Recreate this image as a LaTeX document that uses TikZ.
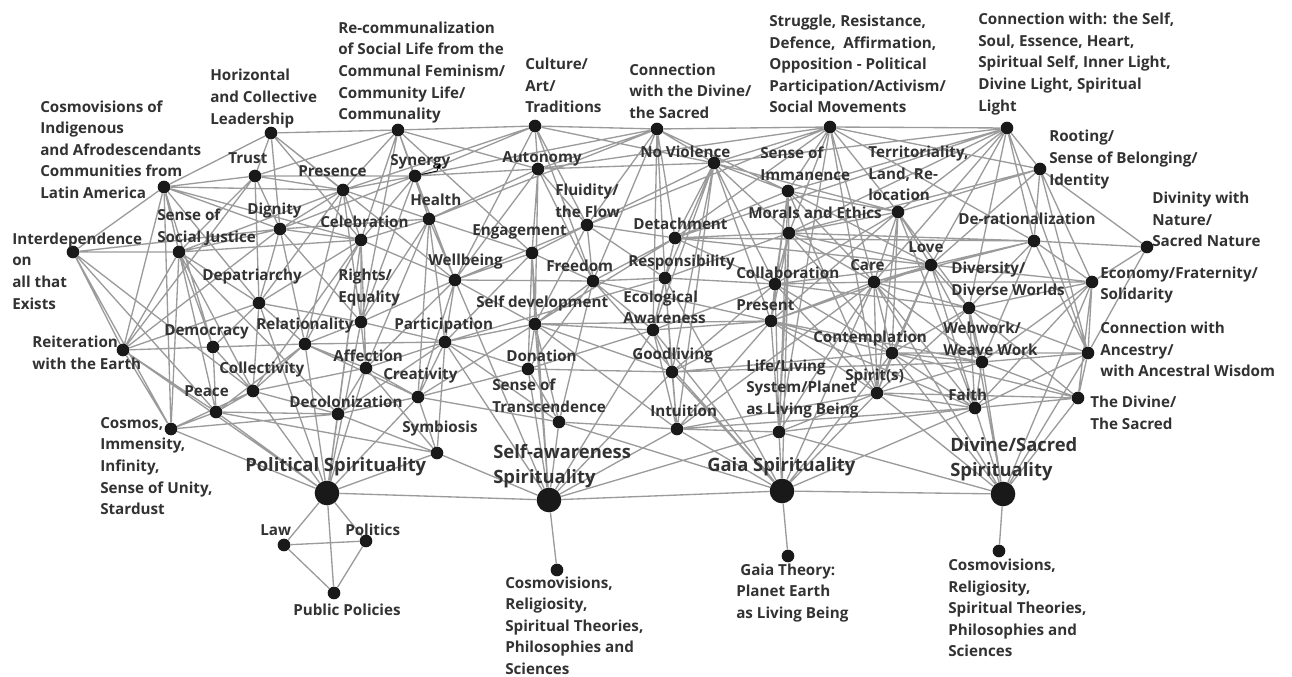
\documentclass[tikz,border=0pt]{standalone}
\usepackage{fontspec}
\setmainfont{Open Sans}
\usetikzlibrary{arrows.meta}
\definecolor{edgegray}{RGB}{155,155,155}
\definecolor{txtgray}{RGB}{50,50,50}
\pgfdeclarelayer{bg}
\pgfsetlayers{bg,main}
\newcommand{\lblfont}{\fontsize{11.4}{16.2}\selectfont\bfseries}
\newcommand{\bigfont}{\fontsize{13.8}{19}\selectfont\bfseries}

\begin{document}
\begin{tikzpicture}[x=0.75pt,y=-0.75pt,
    dot/.style={circle,fill=black!90,inner sep=0pt,minimum size=9.5pt},
    hub/.style={circle,fill=black!90,inner sep=0pt,minimum size=18.5pt},
    lbl/.style={anchor=west,align=left,inner sep=0pt,text=txtgray,font=\lblfont},
    biglbl/.style={lbl,font=\bigfont},
    edge/.style={draw=edgegray,line width=1pt}]
\useasboundingbox (0,0) rectangle (1292,677);

% top row
\draw (271,133) node[dot] (lead) {};
\draw (398,130) node[dot] (recomm) {};
\draw (535,126) node[dot] (culture) {};
\draw (657,129) node[dot] (conndiv) {};
\draw (830,127) node[dot] (struggle) {};
\draw (1007,128) node[dot] (connself) {};
% second row
\draw (164,187) node[dot] (cosmoind) {};
\draw (255,176) node[dot] (trust) {};
\draw (343,190) node[dot] (presence) {};
\draw (415,176) node[dot] (synergy) {};
\draw (538,169) node[dot] (autonomy) {};
\draw (714,163) node[dot] (noviol) {};
\draw (788,191) node[dot] (immanence) {};
\draw (898,212) node[dot] (territ) {};
\draw (1040,169) node[dot] (rooting) {};
\draw (1147,247) node[dot] (divnature) {};
% third row
\draw (73,252) node[dot] (interdep) {};
\draw (179,252) node[dot] (socjust) {};
\draw (280,229) node[dot] (dignity) {};
\draw (361,240) node[dot] (celebr) {};
\draw (429,219) node[dot] (health) {};
\draw (532,253) node[dot] (engage) {};
\draw (587,225) node[dot] (fluid) {};
\draw (675,238) node[dot] (detach) {};
\draw (789,233) node[dot] (morals) {};
\draw (1034,241) node[dot] (derat) {};
\draw (931,265) node[dot] (love) {};
% fourth row
\draw (259,303) node[dot] (depat) {};
\draw (361,322) node[dot] (rights) {};
\draw (455,280) node[dot] (wellb) {};
\draw (593,281) node[dot] (freedom) {};
\draw (665,278) node[dot] (respons) {};
\draw (775,284) node[dot] (collab) {};
\draw (874,282) node[dot] (care) {};
\draw (969,308) node[dot] (divers) {};
\draw (1092,282) node[dot] (economy) {};
% fifth row
\draw (123,350) node[dot] (reiter) {};
\draw (213,347) node[dot] (democ) {};
\draw (305,344) node[dot] (relat) {};
\draw (445,342) node[dot] (partic) {};
\draw (535,324) node[dot] (selfdev) {};
\draw (653,330) node[dot] (ecol) {};
\draw (771,321) node[dot] (present) {};
\draw (892,353) node[dot] (contempl) {};
\draw (982,362) node[dot] (webwork) {};
\draw (1088,353) node[dot] (ancestry) {};
% sixth row
\draw (366,368) node[dot] (affect) {};
\draw (253,391) node[dot] (collect) {};
\draw (418,397) node[dot] (creat) {};
\draw (528,369) node[dot] (donat) {};
\draw (672,372) node[dot] (goodl) {};
\draw (877,393) node[dot] (spirit) {};
\draw (779,432) node[dot] (life) {};
\draw (975,408) node[dot] (faith) {};
\draw (1078,398) node[dot] (thediv) {};
\draw (216,412) node[dot] (peace) {};
\draw (338,414) node[dot] (decol) {};
\draw (171,429) node[dot] (cosmos) {};
\draw (559,422) node[dot] (transc) {};
\draw (677,429) node[dot] (intuit) {};
\draw (437,453) node[dot] (symb) {};
% the four spiritualities
\draw (327,493) node[hub] (polsp) {};
\draw (549,500) node[hub] (selfsp) {};
\draw (782,491) node[hub] (gaiasp) {};
\draw (1003,494) node[hub] (divsp) {};
% leaves
\draw (284,545) node[dot] (law) {};
\draw (366,541) node[dot] (politics) {};
\draw (334,593) node[dot] (pubpol) {};
\draw (557,570) node[dot] (leafs) {};
\draw (788,556) node[dot] (leafg) {};
\draw (999,551) node[dot] (leafd) {};

% labels
\node[lbl] (lead-t) at (210,98.5) {Horizontal\\and Collective\\Leadership};
\node[lbl] (recomm-t) at (338,72.5) {Re-communalization\\of Social Life from the\\Communal Feminism/\\Community Life/\\Communality};
\node[lbl] (culture-t) at (525,85.5) {Culture/\\Art/\\Traditions};
\node[lbl] (conndiv-t) at (629,91) {Connection\\with the Divine/\\the Sacred};
\node[lbl] (struggle-t) at (769,64) {Struggle, Resistance,\\Defence,\ \ Affirmation,\\Opposition - Political\\Participation/Activism/\\Social Movements};
\node[lbl] (connself-t) at (978,64) {Connection with: the Self,\\Soul, Essence, Heart,\\Spiritual Self, Inner Light,\\Divine Light, Spiritual\\Light};
\node[lbl] (cosmoind-t) at (40,149.5) {Cosmovisions of\\Indigenous\\and Afrodescendants\\Communities from\\Latin America};
\node[lbl] (trust-t) at (228,158) {Trust};
\node[lbl] (presence-t) at (298,171) {Presence};
\node[lbl] (synergy-t) at (390,162) {Synergy};
\node[lbl] (autonomy-t) at (502,159) {Autonomy};
\node[lbl] (noviol-t) at (640,152) {No Violence};
\node[lbl] (immanence-t) at (760,163.5) {Sense of\\Immanence};
\node[lbl] (territ-t) at (868,173.5) {Territoriality,\\Land, Re-\\location};
\node[lbl] (rooting-t) at (1049,159.5) {Rooting/\\Sense of Belonging/\\Identity};
\node[lbl] (divnature-t) at (1152,219.5) {Divinity with\\Nature/\\Sacred Nature};
\node[lbl] (interdep-t) at (12,271) {Interdependence\\on\\all that\\Exists};
\node[lbl] (socjust-t) at (157,227) {Sense of\\Social Justice};
\node[lbl] (dignity-t) at (247,211) {Dignity};
\node[lbl] (celebr-t) at (320,222) {Celebration};
\node[lbl] (health-t) at (410,200) {Health};
\node[lbl] (engage-t) at (472,232) {Engagement};
\node[lbl] (fluid-t) at (555,201) {Fluidity/\\the Flow};
\node[lbl] (detach-t) at (633,224) {Detachment};
\node[lbl] (morals-t) at (748,213) {Morals and Ethics};
\node[lbl] (derat-t) at (958,219) {De-rationalization};
\node[lbl] (love-t) at (908,247) {Love};
\node[lbl] (depat-t) at (202,277) {Depatriarchy};
\node[lbl] (rights-t) at (338,287.5) {Rights/\\Equality};
\node[lbl] (wellb-t) at (428,262) {Wellbeing};
\node[lbl] (freedom-t) at (546,266) {Freedom};
\node[lbl] (respons-t) at (628,263) {Responsibility};
\node[lbl] (collab-t) at (736,273) {Collaboration};
\node[lbl] (care-t) at (850,265) {Care};
\node[lbl] (divers-t) at (951,279) {Diversity/\\Diverse Worlds};
\node[lbl] (economy-t) at (1100,285) {Economy/Fraternity/\\Solidarity};
\node[lbl] (reiter-t) at (32,353) {Reiteration\\with the Earth};
\node[lbl] (democ-t) at (164,332) {Democracy};
\node[lbl] (relat-t) at (256,326) {Relationality};
\node[lbl] (partic-t) at (394,326) {Participation};
\node[lbl] (selfdev-t) at (476,304) {Self development};
\node[lbl] (ecol-t) at (623,307.5) {Ecological\\Awareness};
\node[lbl] (present-t) at (736,305) {Present};
\node[lbl] (contempl-t) at (813,339) {Contemplation};
\node[lbl] (webwork-t) at (943,339) {Webwork/\\Weave Work};
\node[lbl] (ancestry-t) at (1100,349.5) {Connection with\\Ancestry/\\with Ancestral Wisdom};
\node[lbl] (affect-t) at (333,356) {Affection};
\node[lbl] (collect-t) at (219,370) {Collectivity};
\node[lbl] (creat-t) at (383,376) {Creativity};
\node[lbl] (donat-t) at (506,356) {Donation};
\node[lbl] (goodl-t) at (632,356) {Goodliving};
\node[lbl] (spirit-t) at (845,377) {Spirit(s)};
\node[lbl] (life-t) at (746,389) {Life/Living\\System/Planet\\as Living Being};
\node[lbl] (faith-t) at (948,395) {Faith};
\node[lbl] (thediv-t) at (1090,412.5) {The Divine/\\The Sacred};
\node[lbl] (peace-t) at (184,391) {Peace};
\node[lbl] (decol-t) at (289,402) {Decolonization};
\node[lbl] (cosmos-t) at (100,466) {Cosmos,\\Immensity,\\Infinity,\\Sense of Unity,\\Stardust};
\node[lbl] (transc-t) at (492,396) {Sense of\\Transcendence};
\node[lbl] (intuit-t) at (650,411) {Intuition};
\node[lbl] (symb-t) at (402,429) {Symbiosis};
\node[biglbl] (polsp-t) at (245,467) {Political Spirituality};
\node[biglbl] (selfsp-t) at (493,466) {Self-awareness\\Spirituality};
\node[biglbl] (gaiasp-t) at (707,467) {Gaia Spirituality};
\node[biglbl] (divsp-t) at (950,459) {Divine/Sacred\\Spirituality};
\node[lbl] (law-t) at (260,530) {Law};
\node[lbl] (politics-t) at (345,530) {Politics};
\node[lbl] (pubpol-t) at (293,610) {Public Policies};
\node[lbl] (leafs-t) at (505,625.5) {Cosmovisions,\\Religiosity,\\Spiritual Theories,\\Philosophies and\\Sciences};
\node[lbl] (leafg-t) at (736,593) {\hspace*{3pt}Gaia Theory:\\Planet Earth\\as Living Being};
\node[lbl] (leafd-t) at (948,608) {Cosmovisions,\\Religiosity,\\Spiritual Theories,\\Philosophies and\\Sciences};

% little arrow beside Synergy
\coordinate (synergy-bend) at (437,171);
\coordinate (synergy-tip) at (440,163);
\draw[line width=0.6pt,-{Latex[length=4pt,width=3pt]}] (synergy) -- (synergy-bend) -- (synergy-tip);

\begin{pgfonlayer}{bg}
\draw[edge] (lead) -- (recomm) (lead) -- (cosmoind) (lead) -- (trust) (lead) -- (dignity)
      (lead) -- (presence) (lead) -- (celebr) (lead) -- (wellb)
      (recomm) -- (culture) (recomm) -- (trust) (recomm) -- (presence) (recomm) -- (synergy)
      (recomm) -- (health) (recomm) -- (celebr) (recomm) -- (engage) (recomm) -- (autonomy)
      (recomm) -- (rights)
      (culture) -- (conndiv) (culture) -- (presence) (culture) -- (wellb) (culture) -- (autonomy)
      (culture) -- (fluid) (culture) -- (noviol) (culture) -- (synergy) (culture) -- (freedom)
      (conndiv) -- (struggle) (conndiv) -- (autonomy) (conndiv) -- (synergy) (conndiv) -- (noviol)
      (conndiv) -- (detach) (conndiv) -- (respons) (conndiv) -- (ecol) (conndiv) -- (immanence)
      (conndiv) -- (fluid) (conndiv) -- (freedom) (conndiv) -- (health)
      (struggle) -- (connself) (struggle) -- (noviol) (struggle) -- (immanence) (struggle) -- (territ)
      (struggle) -- (morals) (struggle) -- (care) (struggle) -- (life) (struggle) -- (spirit)
      (struggle) -- (fluid) (struggle) -- (rooting) (struggle) -- (derat) (struggle) -- (detach)
      (struggle) -- (autonomy)
      (connself) -- (rooting) (connself) -- (derat) (connself) -- (territ) (connself) -- (morals)
      (connself) -- (immanence) (connself) -- (love) (connself) -- (care) (connself) -- (divers)
      (connself) -- (ancestry) (connself) -- (noviol) (connself) -- (detach)
      (cosmoind) -- (trust) (cosmoind) -- (presence) (cosmoind) -- (interdep) (cosmoind) -- (socjust)
      (cosmoind) -- (dignity) (cosmoind) -- (celebr) (cosmoind) -- (reiter) (cosmoind) -- (cosmos)
      (cosmoind) -- (peace) (cosmoind) -- (depat) (cosmoind) -- (democ)
      (trust) -- (presence) (trust) -- (dignity) (trust) -- (socjust) (trust) -- (depat)
      (trust) -- (reiter) (trust) -- (synergy)
      (presence) -- (synergy) (presence) -- (dignity) (presence) -- (celebr) (presence) -- (health)
      (presence) -- (rights) (presence) -- (depat) (presence) -- (relat) (presence) -- (socjust)
      (synergy) -- (health) (synergy) -- (celebr) (synergy) -- (autonomy) (synergy) -- (wellb)
      (synergy) -- (rights) (synergy) -- (dignity)
      (autonomy) -- (noviol) (autonomy) -- (health) (autonomy) -- (engage) (autonomy) -- (fluid)
      (autonomy) -- (freedom) (autonomy) -- (selfdev) (autonomy) -- (wellb)
      (noviol) -- (immanence) (noviol) -- (detach) (noviol) -- (respons) (noviol) -- (ecol)
      (noviol) -- (goodl) (noviol) -- (intuit) (noviol) -- (collab) (noviol) -- (present)
      (noviol) -- (territ) (noviol) -- (fluid) (noviol) -- (morals)
      (immanence) -- (territ) (immanence) -- (morals) (immanence) -- (love) (immanence) -- (care)
      (immanence) -- (detach) (immanence) -- (collab) (immanence) -- (present) (immanence) -- (life)
      (immanence) -- (spirit)
      (territ) -- (rooting) (territ) -- (morals) (territ) -- (love) (territ) -- (care)
      (territ) -- (contempl) (territ) -- (spirit) (territ) -- (divers) (territ) -- (present)
      (territ) -- (collab) (territ) -- (faith)
      (rooting) -- (divnature) (rooting) -- (derat) (rooting) -- (economy) (rooting) -- (love)
      (rooting) -- (morals) (rooting) -- (ancestry)
      (divnature) -- (derat) (divnature) -- (economy) (divnature) -- (ancestry)
      (interdep) -- (socjust) (interdep) -- (reiter) (interdep) -- (cosmos) (interdep) -- (collect)
      (interdep) -- (dignity) (interdep) -- (peace)
      (socjust) -- (dignity) (socjust) -- (reiter) (socjust) -- (democ) (socjust) -- (depat)
      (socjust) -- (peace) (socjust) -- (cosmos) (socjust) -- (collect) (socjust) -- (celebr)
      (socjust) -- (decol)
      (dignity) -- (celebr) (dignity) -- (depat) (dignity) -- (relat) (dignity) -- (reiter)
      (dignity) -- (rights) (dignity) -- (health)
      (celebr) -- (health) (celebr) -- (rights) (celebr) -- (relat) (celebr) -- (affect)
      (celebr) -- (wellb) (celebr) -- (decol) (celebr) -- (depat) (celebr) -- (collect)
      (celebr) -- (polsp)
      (health) -- (wellb) (health) -- (engage) (health) -- (partic) (health) -- (affect)
      (health) -- (rights) (health) -- (creat)
      (engage) -- (fluid) (engage) -- (freedom) (engage) -- (wellb) (engage) -- (selfdev)
      (engage) -- (partic) (engage) -- (donat) (engage) -- (selfsp)
      (fluid) -- (detach) (fluid) -- (freedom) (fluid) -- (selfdev) (fluid) -- (wellb) (fluid) -- (respons)
      (detach) -- (morals) (detach) -- (freedom) (detach) -- (respons) (detach) -- (ecol)
      (detach) -- (collab) (detach) -- (love) (detach) -- (derat) (detach) -- (selfdev)
      (morals) -- (respons) (morals) -- (collab) (morals) -- (present) (morals) -- (care)
      (morals) -- (love) (morals) -- (life) (morals) -- (contempl) (morals) -- (gaiasp)
      (morals) -- (derat)
      (derat) -- (divers) (derat) -- (webwork) (derat) -- (economy) (derat) -- (ancestry)
      (derat) -- (love) (derat) -- (care)
      (love) -- (care) (love) -- (divers) (love) -- (webwork) (love) -- (economy)
      (love) -- (contempl) (love) -- (spirit) (love) -- (faith) (love) -- (collab) (love) -- (present)
      (depat) -- (democ) (depat) -- (relat) (depat) -- (collect) (depat) -- (rights)
      (depat) -- (polsp) (depat) -- (reiter)
      (rights) -- (relat) (rights) -- (affect) (rights) -- (partic) (rights) -- (polsp) (rights) -- (wellb)
      (wellb) -- (freedom) (wellb) -- (partic) (wellb) -- (selfdev) (wellb) -- (selfsp)
      (wellb) -- (creat) (wellb) -- (affect)
      (freedom) -- (respons) (freedom) -- (selfdev) (freedom) -- (ecol) (freedom) -- (present)
      (freedom) -- (donat) (freedom) -- (transc) (freedom) -- (gaiasp)
      (respons) -- (ecol) (respons) -- (collab) (respons) -- (goodl) (respons) -- (intuit)
      (respons) -- (partic) (respons) -- (gaiasp)
      (collab) -- (care) (collab) -- (present) (collab) -- (life) (collab) -- (ecol)
      (collab) -- (goodl) (collab) -- (contempl) (collab) -- (divers) (collab) -- (spirit)
      (care) -- (present) (care) -- (contempl) (care) -- (spirit) (care) -- (life)
      (care) -- (faith) (care) -- (divers) (care) -- (webwork) (care) -- (intuit)
      (care) -- (gaiasp) (care) -- (divsp) (care) -- (economy)
      (divers) -- (webwork) (divers) -- (economy) (divers) -- (ancestry) (divers) -- (thediv)
      (divers) -- (faith) (divers) -- (contempl) (divers) -- (spirit) (divers) -- (divsp)
      (economy) -- (ancestry) (economy) -- (webwork) (economy) -- (faith) (economy) -- (divsp)
      (economy) -- (thediv)
      (reiter) -- (democ) (reiter) -- (relat) (reiter) -- (cosmos) (reiter) -- (peace) (reiter) -- (polsp)
      (democ) -- (relat) (democ) -- (peace) (democ) -- (collect)
      (relat) -- (affect) (relat) -- (collect) (relat) -- (partic) (relat) -- (polsp)
      (relat) -- (creat) (relat) -- (peace)
      (partic) -- (affect) (partic) -- (creat) (partic) -- (donat) (partic) -- (selfdev)
      (partic) -- (symb) (partic) -- (selfsp) (partic) -- (transc) (partic) -- (decol)
      (selfdev) -- (donat) (selfdev) -- (ecol) (selfdev) -- (goodl) (selfdev) -- (transc)
      (selfdev) -- (selfsp) (selfdev) -- (intuit) (selfdev) -- (creat) (selfdev) -- (present)
      (ecol) -- (present) (ecol) -- (goodl) (ecol) -- (intuit) (ecol) -- (selfsp)
      (ecol) -- (gaiasp) (ecol) -- (donat)
      (present) -- (contempl) (present) -- (spirit) (present) -- (faith) (present) -- (life)
      (present) -- (intuit) (present) -- (goodl) (present) -- (webwork)
      (contempl) -- (webwork) (contempl) -- (spirit) (contempl) -- (faith) (contempl) -- (goodl)
      (contempl) -- (ancestry) (contempl) -- (gaiasp) (contempl) -- (divsp) (contempl) -- (thediv)
      (webwork) -- (ancestry) (webwork) -- (thediv) (webwork) -- (faith) (webwork) -- (spirit)
      (webwork) -- (goodl) (webwork) -- (divsp)
      (ancestry) -- (thediv) (ancestry) -- (faith) (ancestry) -- (divsp)
      (affect) -- (creat) (affect) -- (collect) (affect) -- (decol) (affect) -- (polsp) (affect) -- (symb)
      (collect) -- (peace) (collect) -- (decol) (collect) -- (polsp) (collect) -- (cosmos)
      (creat) -- (donat) (creat) -- (decol) (creat) -- (symb) (creat) -- (polsp) (creat) -- (transc)
      (donat) -- (transc) (donat) -- (goodl) (donat) -- (selfsp)
      (goodl) -- (intuit) (goodl) -- (selfsp) (goodl) -- (gaiasp)
      (spirit) -- (faith) (spirit) -- (life) (spirit) -- (intuit) (spirit) -- (divsp)
      (spirit) -- (gaiasp) (spirit) -- (thediv)
      (life) -- (faith) (life) -- (gaiasp) (life) -- (selfsp) (life) -- (divsp) (life) -- (intuit)
      (faith) -- (thediv) (faith) -- (gaiasp) (faith) -- (divsp) (faith) -- (intuit)
      (thediv) -- (divsp)
      (peace) -- (decol) (peace) -- (cosmos) (peace) -- (polsp) (peace) -- (symb)
      (decol) -- (cosmos) (decol) -- (symb) (decol) -- (polsp)
      (cosmos) -- (polsp)
      (transc) -- (intuit) (transc) -- (selfsp) (transc) -- (gaiasp)
      (intuit) -- (gaiasp) (intuit) -- (selfsp)
      (symb) -- (polsp) (symb) -- (selfsp)
      (polsp) -- (selfsp) (polsp) -- (law) (polsp) -- (politics) (polsp) -- (pubpol)
      (selfsp) -- (gaiasp) (selfsp) -- (leafs)
      (gaiasp) -- (divsp) (gaiasp) -- (leafg)
      (divsp) -- (leafd)
      (law) -- (politics) (law) -- (pubpol) (politics) -- (pubpol);
\end{pgfonlayer}
\end{tikzpicture}
\end{document}
